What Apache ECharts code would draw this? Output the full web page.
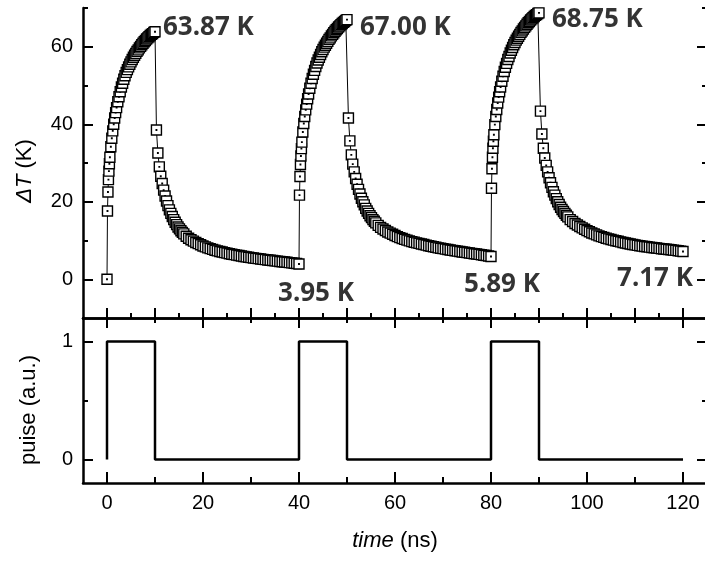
<!DOCTYPE html>
<html><head><meta charset="utf-8">
<script src="https://cdn.jsdelivr.net/npm/echarts@6/dist/echarts.min.js"></script>
<style>html,body{margin:0;padding:0;background:#fff}#c{width:705px;height:561px}</style>
</head><body><div id="c"></div>
<script>
// ---------- data ----------
// time offsets (ns) from the start of each pulse
const heatTimes = [0.1,0.2,0.3,0.4,0.5,0.6,0.8,1.0,1.2,1.4,1.6,1.8,2.0,
  2.25,2.5,2.75,3.0,3.25,3.5,3.75,4.0,4.25,4.5,4.75,5.0,5.25,5.5,5.75,6.0,
  6.25,6.5,6.75,7.0,7.25,7.5,7.75,8.0,8.25,8.5,8.75,9.0,9.25,9.5,9.75,10.0];
const coolTimes = [10.3,10.6,10.9,11.2,11.5,11.8,12.1,12.4,12.7,13.0,13.3,13.6,13.9,
  14.2,14.5,14.8,15.1,15.4,15.7,16.0,16.5,17.0,17.5,18.0,18.5,19.0,19.5,20.0,20.5,
  21.0,21.5,22.0,22.5,23.0,23.5,24.0,24.5,25.0,25.5,26.0,26.5,27.0,27.5,28.0,28.5,
  29.0,29.5,30.0,30.5,31.0,31.5,32.0,32.5,33.0,33.5,34.0,34.5,35.0,35.5,36.0,36.5,
  37.0,37.5,38.0,38.5,39.0,39.5,40.0];
const cycleStarts = [0, 40, 80];
const firstPoint = [0, 0];

const heat1 = [17.6,22.5,25.7,27.9,29.8,31.5,34.2,36.4,38.3,40.0,41.6,43.0,44.3,
  45.8,47.1,48.4,49.6,50.6,51.6,52.5,53.4,54.1,54.8,55.5,56.1,56.7,57.3,57.8,58.3,
  58.8,59.2,59.7,60.1,60.5,60.9,61.3,61.6,62.0,62.3,62.6,62.9,63.2,63.4,63.7,63.87];
const cool1 = [38.5,32.6,29.0,26.6,24.7,23.0,21.5,20.2,19.0,17.9,17.0,16.2,15.4,
  14.7,14.1,13.5,13.0,12.5,12.1,11.7,11.1,10.6,10.2,9.85,9.5,9.2,8.9,8.6,8.35,
  8.1,7.9,7.7,7.5,7.33,7.17,7.02,6.87,6.73,6.6,6.47,6.35,6.23,6.11,6.0,5.89,
  5.78,5.68,5.58,5.49,5.4,5.31,5.22,5.14,5.06,4.98,4.9,4.82,4.75,4.67,4.6,4.53,
  4.46,4.39,4.3,4.22,4.14,4.05,3.95];
const heat2 = [21.7,26.5,29.6,31.8,33.7,35.4,38.0,40.2,42.0,43.7,45.2,46.6,47.8,
  49.3,50.6,51.8,52.9,53.9,54.9,55.8,56.6,57.3,58.0,58.7,59.3,59.9,60.4,60.9,61.4,
  61.9,62.3,62.8,63.2,63.6,64.0,64.4,64.7,65.1,65.4,65.7,66.0,66.3,66.5,66.8,67.00];
const cool2 = [41.6,35.7,32.1,29.7,27.7,26.0,24.5,23.2,22.0,20.9,20.0,19.2,18.3,
  17.6,17.0,16.4,15.9,15.4,14.95,14.55,13.9,13.4,12.95,12.6,12.2,11.9,11.6,11.3,11.0,
  10.75,10.5,10.3,10.1,9.9,9.7,9.55,9.4,9.25,9.1,8.95,8.8,8.65,8.5,8.4,8.25,
  8.1,8.0,7.9,7.77,7.66,7.55,7.44,7.34,7.25,7.15,7.05,6.95,6.87,6.77,6.68,6.59,
  6.5,6.42,6.31,6.21,6.11,6.01,5.89];
const heat3 = [23.5,28.5,31.5,33.8,35.6,37.3,39.9,42.0,43.8,45.5,47.0,48.4,49.6,
  51.1,52.4,53.6,54.7,55.7,56.7,57.5,58.4,59.1,59.8,60.5,61.1,61.7,62.2,62.7,63.2,
  63.7,64.1,64.6,65.0,65.4,65.8,66.2,66.5,66.9,67.2,67.5,67.8,68.1,68.3,68.6,68.75];
const cool3 = [43.4,37.5,33.8,31.3,29.4,27.7,26.2,24.9,23.7,22.6,21.7,20.8,20.0,
  19.3,18.6,18.0,17.5,17.0,16.5,16.1,15.4,14.9,14.4,14.0,13.6,13.25,12.9,12.55,12.25,
  11.95,11.7,11.45,11.2,11.0,10.8,10.6,10.43,10.26,10.1,9.94,9.79,9.64,9.49,9.36,9.23,
  9.1,8.98,8.86,8.75,8.64,8.54,8.45,8.37,8.29,8.21,8.13,8.05,7.97,7.89,7.82,7.75,
  7.68,7.61,7.52,7.44,7.36,7.27,7.17];

const pulseTimes  = [0,0,10,10,40,40,50,50,80,80,90,90,120];
const pulseValues = [0,1,1,0,0,1,1,0,0,1,1,0,0];

const annotTimes  = [10, 50, 90, 40, 80, 120];
const annotValues = [63.87, 67.00, 68.75, 3.95, 5.89, 7.17];

// tick values
const timeLabelTicks = [0,20,40,60,80,100,120];
const timeMinorTicks = [10,30,50,70,90,110];
const topTimeMajor   = [0,10,20,30,40,50,60,70,80,90,100,110,120];
const topTimeMinor   = [5,15,25,35,45,55,65,75,85,95,105,115];
const dTMajor = [0,20,40,60];
const dTMinor = [10,30,50,70];
const pulseMajor = [0,1];
const pulseMinor = [0.5];

// ---------- build ----------
const heats = [heat1, heat2, heat3], cools = [cool1, cool2, cool3];
const dTData = [firstPoint.slice()];
cycleStarts.forEach((s, i) => {
  heatTimes.forEach((t, j) => dTData.push([s + t, heats[i][j]]));
  coolTimes.forEach((t, j) => dTData.push([s + t, cools[i][j]]));
});
const pulseData = pulseTimes.map((t, i) => [t, pulseValues[i]]);

const annotStyle = [
  {align:'left',   offset:[8,-4]},
  {align:'left',   offset:[13,8]},
  {align:'left',   offset:[13,7]},
  {align:'center', offset:[17,30]},
  {align:'center', offset:[11,28]},
  {align:'center', offset:[-28,27]}
];
const annotData = annotTimes.map((t, i) => ({
  value: [t, annotValues[i]],
  label: {align: annotStyle[i].align, offset: annotStyle[i].offset}
}));

const FONT = 'Liberation Sans, Arial, sans-serif';
const BLACK = '#000';

function axisBase(extra) {
  return Object.assign({
    type: 'value',
    splitLine: {show: false},
    axisLine: {show: false, onZero: false},
    axisTick: {show: false},
    axisLabel: {show: false},
    silent: true
  }, extra);
}
function mainLine() { return {show: true, onZero: false, lineStyle: {color: BLACK, width: 2.5}}; }
function ticks(vals, len) { return {show: true, inside: true, length: len, customValues: vals, lineStyle: {color: BLACK, width: 2}}; }
function labels(vals, margin) { return {show: true, customValues: vals, margin: margin, color: BLACK, fontSize: 20, fontFamily: FONT}; }

const chart = echarts.init(document.getElementById('c'), null, {renderer: 'canvas'});
chart.setOption({
  animation: false,
  backgroundColor: '#fff',
  grid: [
    {left: 83, top: 8, width: 624, height: 310, outerBoundsMode: 'none'},
    {left: 83, top: 318, width: 624, height: 165, outerBoundsMode: 'none'}
  ],
  graphic: [
    {type: 'text', x: 25, y: 171, rotation: Math.PI / 2, silent: true,
      style: {text: '{i|\u0394T} (K)', fontFamily: FONT, fontSize: 22, fill: BLACK, align: 'center', verticalAlign: 'middle',
        rich: {i: {fontStyle: 'italic', fontFamily: FONT, fontSize: 22, fill: BLACK}}}},
    {type: 'text', x: 29, y: 410, rotation: Math.PI / 2, silent: true,
      style: {text: 'puise (a.u.)', fontFamily: FONT, fontSize: 22, fill: BLACK, align: 'center', verticalAlign: 'middle'}}
  ],
  xAxis: [
    axisBase({gridIndex: 0, min: -5, max: 125, position: 'bottom', axisLine: mainLine(), axisTick: ticks(topTimeMajor, 10)}),
    axisBase({gridIndex: 0, min: -5, max: 125, position: 'bottom', axisTick: ticks(topTimeMinor, 5)}),
    axisBase({gridIndex: 1, min: -5, max: 125, position: 'bottom', axisLine: mainLine(), axisTick: ticks(timeLabelTicks, 11),
      axisLabel: labels(timeLabelTicks, 10),
      name: '{i|time} (ns)', nameLocation: 'middle', nameGap: 47,
      nameTextStyle: {fontFamily: FONT, fontSize: 22, color: BLACK, rich: {i: {fontStyle: 'italic', fontFamily: FONT, fontSize: 22, color: BLACK}}}}),
    axisBase({gridIndex: 1, min: -5, max: 125, position: 'bottom', axisTick: ticks(timeMinorTicks, 6)}),
    axisBase({gridIndex: 1, min: -5, max: 125, position: 'top', axisLine: mainLine(), axisTick: ticks(timeLabelTicks, 10)}),
    axisBase({gridIndex: 1, min: -5, max: 125, position: 'top', axisTick: ticks(timeMinorTicks, 5)})
  ],
  yAxis: [
    axisBase({gridIndex: 0, min: -10, max: 70, position: 'left', axisLine: mainLine(), axisTick: ticks(dTMajor, 10),
      axisLabel: labels(dTMajor, 10)}),
    axisBase({gridIndex: 0, min: -10, max: 70, position: 'left', axisTick: ticks(dTMinor, 5)}),
    axisBase({gridIndex: 0, min: -10, max: 70, position: 'right', axisLine: mainLine(), axisTick: ticks(dTMajor, 10)}),
    axisBase({gridIndex: 0, min: -10, max: 70, position: 'right', axisTick: ticks(dTMinor, 5)}),
    axisBase({gridIndex: 1, min: -0.2, max: 1.2, position: 'left', axisLine: mainLine(), axisTick: ticks(pulseMajor, 10),
      axisLabel: labels(pulseMajor, 10)}),
    axisBase({gridIndex: 1, min: -0.2, max: 1.2, position: 'left', axisTick: ticks(pulseMinor, 5)}),
    axisBase({gridIndex: 1, min: -0.2, max: 1.2, position: 'right', axisLine: mainLine(), axisTick: ticks(pulseMajor, 10)}),
    axisBase({gridIndex: 1, min: -0.2, max: 1.2, position: 'right', axisTick: ticks(pulseMinor, 5)})
  ],
  series: [
    {
      type: 'line', xAxisIndex: 0, yAxisIndex: 0, data: dTData, silent: true,
      symbol: 'path://M0,0L10,0L10,10L0,10Z M4.75,4.75L5.25,4.75L5.25,5.25L4.75,5.25Z',
      symbolSize: 10, showSymbol: true, clip: false,
      lineStyle: {color: BLACK, width: 1},
      itemStyle: {color: '#fff', borderColor: '#000', borderWidth: 1.4},
      emphasis: {disabled: true}, z: 3
    },
    {
      type: 'scatter', xAxisIndex: 0, yAxisIndex: 0, data: annotData, silent: true,
      symbol: 'circle', symbolSize: 1, itemStyle: {color: 'rgba(0,0,0,0)'},
      label: {show: true, position: 'inside', verticalAlign: 'middle',
        formatter: p => p.value[1].toFixed(2) + ' K',
        fontFamily: 'Noto Sans, sans-serif', fontWeight: 'bold', fontSize: 26, color: BLACK},
      emphasis: {disabled: true}, z: 5
    },
    {
      type: 'line', xAxisIndex: 2, yAxisIndex: 4, data: pulseData, silent: true,
      symbol: 'none', lineStyle: {color: BLACK, width: 2.5}, emphasis: {disabled: true}
    }
  ]
});
</script></body></html>
